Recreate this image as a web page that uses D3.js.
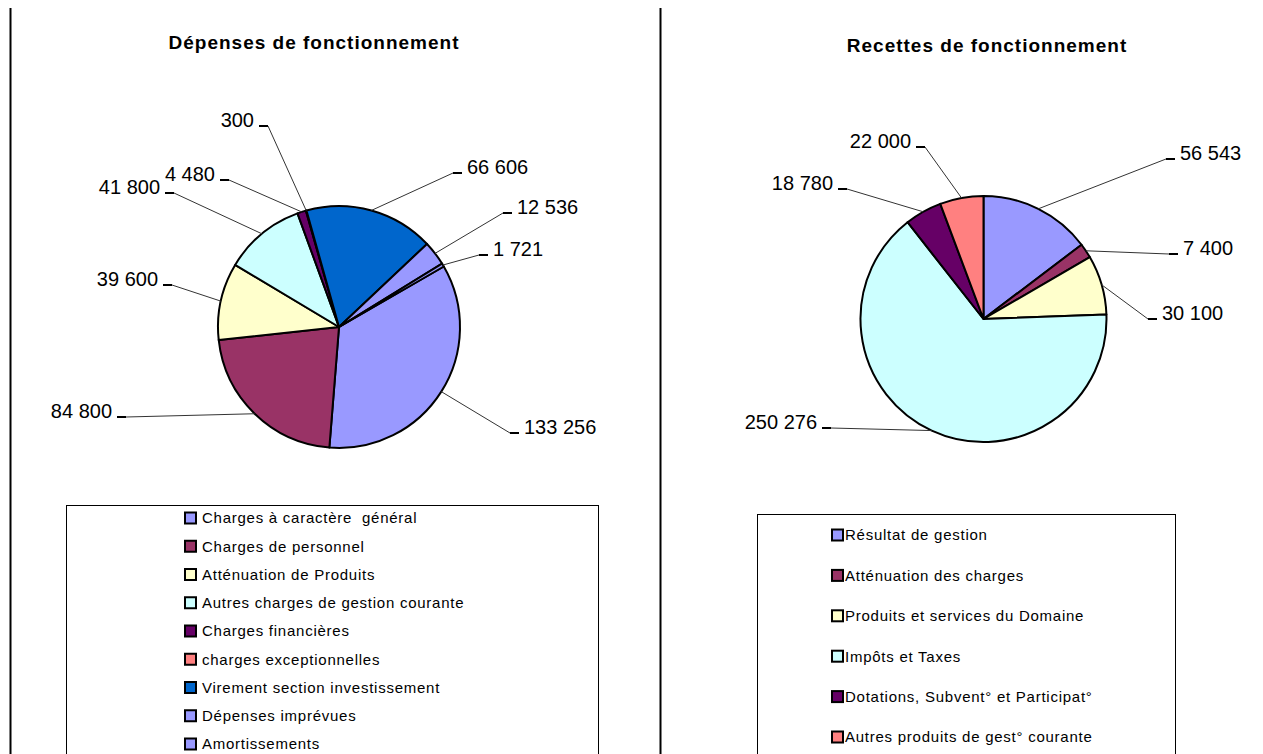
<!DOCTYPE html>
<html><head><meta charset="utf-8">
<script src="https://cdn.jsdelivr.net/npm/d3@7"></script>
<style>
body{margin:0;background:#fff;}
text{font-family:"Liberation Sans",Arial,sans-serif;}
</style></head>
<body>
<svg id="c" width="1263" height="754"></svg>
<script>
// ---------- data ----------
const depCategories = ["Charges à caractère  général","Charges de personnel","Atténuation de Produits","Autres charges de gestion courante","Charges financières","charges exceptionnelles","Virement section investissement","Dépenses imprévues","Amortissements"];
const depValues = [133256, 84800, 39600, 41800, 4480, 300, 66606, 12536, 1721];
const depColors = ["#9999FF","#993366","#FFFFCC","#CCFFFF","#660066","#FF8080","#0066CC","#9999FF","#9999FF"];

const recCategories = ["Résultat de gestion","Atténuation des charges","Produits et services du Domaine","Impôts et Taxes","Dotations, Subvent° et Participat°","Autres produits de gest° courante"];
const recValues = [56543, 7400, 30100, 250276, 18780, 22000];
const recColors = ["#9999FF","#993366","#FFFFCC","#CCFFFF","#660066","#FF8080"];

// ---------- layout (label anchor offsets from pie centre) ----------
const depLabelOffsets = [[185,100],[-227,84],[-181,-48],[-179,-140],[-124,-153],[-85,-207],[128,-160],[178,-120],[154,-78]];
const recLabelOffsets = [[196.5,-166],[199.5,-71],[178.5,-6],[-166.5,103],[-150.5,-136],[-72.5,-178]];

const svg = d3.select("#c");
const fmt = v => d3.format(",")(v).replace(/,/g," ");

// frame lines
svg.append("line").attr("x1",10.5).attr("x2",10.5).attr("y1",8).attr("y2",754).attr("stroke","#000").attr("stroke-width",2);
svg.append("line").attr("x1",660.5).attr("x2",660.5).attr("y1",8).attr("y2",754).attr("stroke","#000").attr("stroke-width",2);

function drawPie(cfg){
  const g = svg.append("g").attr("transform",`translate(${cfg.cx},${cfg.cy})`);
  const a0 = cfg.start*Math.PI/180;
  const pie = d3.pie().sort(null).value(d=>d).startAngle(a0).endAngle(a0+2*Math.PI);
  const arcs = pie(cfg.values);
  const arc = d3.arc().innerRadius(0).outerRadius(cfg.r);
  const edge = d3.arc().innerRadius(cfg.r).outerRadius(cfg.r);
  g.selectAll("path.s").data(arcs).join("path").attr("class","s")
    .attr("d",arc).attr("fill",(d,i)=>cfg.colors[i])
    .attr("stroke","#000").attr("stroke-width",2).attr("stroke-linejoin","round");
  arcs.forEach((d,i)=>{
    const [ox,oy] = cfg.offsets[i];
    const right = ox>0;
    const s = right?1:-1;
    const [ex,ey] = edge.centroid(d);
    const ly = oy+6;
    const x1 = ox - s*14, x2 = ox - s*5;
    g.append("line").attr("x1",ex).attr("y1",ey).attr("x2",x1).attr("y2",ly)
      .attr("stroke","#333").attr("stroke-width",1);
    g.append("line").attr("x1",x1).attr("y1",ly).attr("x2",x2).attr("y2",ly)
      .attr("stroke","#000").attr("stroke-width",2);
    g.append("text").attr("x",ox).attr("y",oy).attr("dy","0.36em")
      .attr("text-anchor",right?"start":"end")
      .attr("font-size",20).attr("fill","#000").text(fmt(cfg.values[i]));
  });
  svg.append("text").attr("x",cfg.tx).attr("y",cfg.ty).attr("text-anchor","middle")
    .attr("font-size",19).attr("font-weight","bold").attr("letter-spacing",1)
    .text(cfg.title);
  // legend
  const L = cfg.legend;
  svg.append("rect").attr("x",L.x+0.5).attr("y",L.y+0.5).attr("width",L.w).attr("height",300)
    .attr("fill","#fff").attr("stroke","#000").attr("stroke-width",1);
  cfg.categories.forEach((c,i)=>{
    const y = L.y0 + i*L.step;
    svg.append("rect").attr("x",L.sx).attr("y",y-5.5).attr("width",11).attr("height",11)
      .attr("fill",cfg.colors[i]).attr("stroke","#000").attr("stroke-width",2);
    svg.append("text").attr("x",L.tx).attr("y",y).attr("dy","0.36em")
      .attr("font-size",15).attr("letter-spacing",0.75).style("white-space","pre").text(c);
  });
}

drawPie({cx:339,cy:327,r:121,start:60,values:depValues,colors:depColors,offsets:depLabelOffsets,
  categories:depCategories,title:"Dépenses de fonctionnement",tx:314,ty:49,
  legend:{x:66,y:505,w:532,sx:185,tx:202,y0:518,step:28.25}});
drawPie({cx:983.5,cy:319,r:123,start:0,values:recValues,colors:recColors,offsets:recLabelOffsets,
  categories:recCategories,title:"Recettes de fonctionnement",tx:987,ty:52,
  legend:{x:757,y:514,w:418,sx:832,tx:845,y0:535,step:40.4}});
</script>
</body></html>
